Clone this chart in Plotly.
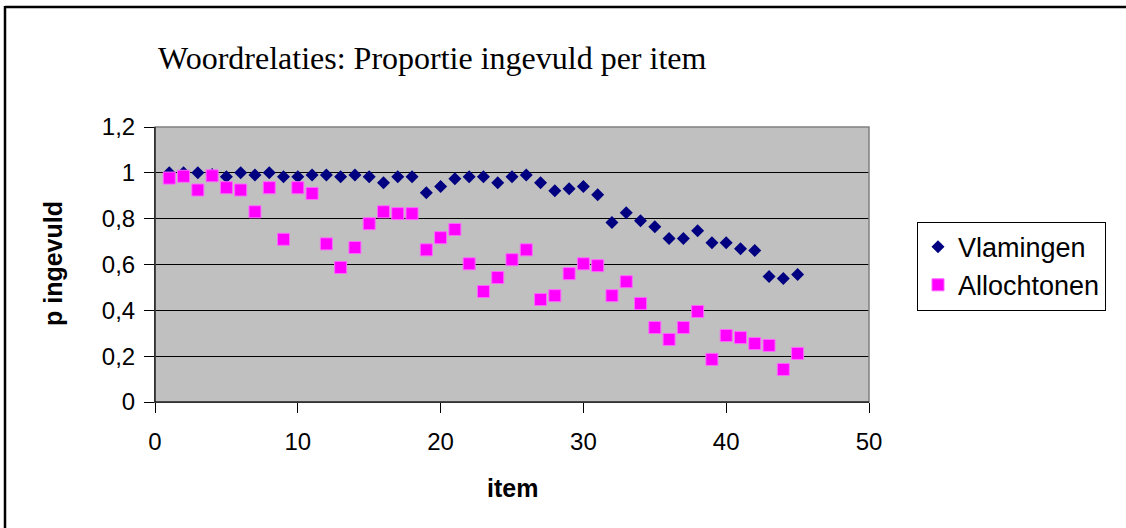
import plotly.graph_objects as go

items = list(range(1, 46))
vlamingen = [1.0, 1.0, 1.0, 0.993, 0.983, 1.0, 0.99, 1.0, 0.983, 0.983,
             0.99, 0.99, 0.983, 0.99, 0.983, 0.957, 0.983, 0.983, 0.913, 0.94,
             0.974, 0.983, 0.983, 0.957, 0.983, 0.991, 0.957, 0.922, 0.93, 0.94,
             0.904, 0.783, 0.826, 0.791, 0.765, 0.713, 0.713, 0.747, 0.695, 0.695,
             0.669, 0.661, 0.548, 0.539, 0.556]
allochtonen = [0.977, 0.985, 0.925, 0.987, 0.935, 0.925, 0.83, 0.935, 0.71, 0.935,
               0.91, 0.69, 0.587, 0.674, 0.778, 0.83, 0.822, 0.822, 0.664, 0.717,
               0.753, 0.603, 0.482, 0.543, 0.621, 0.664, 0.447, 0.464, 0.56, 0.603,
               0.595, 0.464, 0.525, 0.43, 0.325, 0.273, 0.325, 0.395, 0.186, 0.29,
               0.281, 0.255, 0.247, 0.142, 0.212]

title_text = "Woordrelaties: Proportie ingevuld per item"
x_title = "item"
y_title = "p ingevuld"
x_ticks = [0, 10, 20, 30, 40, 50]
y_ticks = [0, 0.2, 0.4, 0.6, 0.8, 1.0, 1.2]

W, H = 1126, 528
L, R, T, B = 155, 869, 127, 402
pw, ph = R - L, B - T


def px(x):
    return (x - L) / pw


def py(y):
    return (B - y) / ph


fig = go.Figure()
fig.add_trace(go.Scatter(
    x=items, y=vlamingen, mode="markers", name="Vlamingen",
    marker=dict(symbol="diamond", size=10, color="#000080",
                line=dict(width=0))))
fig.add_trace(go.Scatter(
    x=items, y=allochtonen, mode="markers", name="Allochtonen",
    marker=dict(symbol="square", size=12, color="#FF00FF",
                line=dict(width=1, color="#FF66FF"))))

axis_font = dict(family="Arial, Liberation Sans, sans-serif", size=24, color="black")

fig.update_layout(
    width=W, height=H,
    margin=dict(l=L, r=W - R, t=T, b=H - B, pad=0),
    paper_bgcolor="white",
    plot_bgcolor="#C0C0C0",
    separators=",.",
    showlegend=True,
    legend=dict(
        x=px(917), y=py(221.7), xanchor="left", yanchor="top",
        bgcolor="white", bordercolor="black", borderwidth=1,
        font=dict(family="Arial, Liberation Sans, sans-serif", size=27, color="black"),
        traceorder="normal",
    ),
    xaxis=dict(
        range=[0, 50], tickvals=x_ticks, showgrid=False, zeroline=False,
        showline=True, linecolor="black", linewidth=1,
        ticks="outside", ticklen=10, tickcolor="black", tickwidth=1,
        tickfont=axis_font, ticklabelstandoff=8,
    ),
    yaxis=dict(
        range=[0, 1.2], tickvals=y_ticks, showgrid=True, gridcolor="black",
        gridwidth=1, zeroline=False,
        showline=True, linecolor="black", linewidth=1,
        ticks="outside", ticklen=10, tickcolor="black", tickwidth=1,
        tickfont=axis_font, ticklabelstandoff=4,
    ),
    shapes=[
        dict(type="rect", xref="paper", yref="paper", x0=0, x1=1, y0=0, y1=1,
             line=dict(color="#808080", width=1.5), layer="above"),
        dict(type="line", xref="paper", yref="paper", x0=0, x1=0, y0=0, y1=1,
             line=dict(color="black", width=1), layer="above"),
        dict(type="line", xref="paper", yref="paper", x0=0, x1=1, y0=0, y1=0,
             line=dict(color="black", width=1), layer="above"),
        dict(type="line", xref="paper", yref="paper",
             x0=px(5), x1=px(1126), y0=py(7), y1=py(7),
             line=dict(color="black", width=2.5), layer="above"),
        dict(type="line", xref="paper", yref="paper",
             x0=px(5), x1=px(5), y0=py(6), y1=py(528),
             line=dict(color="black", width=2.5), layer="above"),
    ],
    annotations=[
        dict(text=title_text, xref="paper", yref="paper", x=px(156), y=py(58),
             xanchor="left", yanchor="middle", showarrow=False,
             font=dict(family="Times New Roman, Liberation Serif, serif", size=32, color="black")),
        dict(text="<b>" + y_title + "</b>", xref="paper", yref="paper",
             x=px(53), y=py(264), xanchor="center", yanchor="middle",
             textangle=-90, showarrow=False,
             font=dict(family="Arial, Liberation Sans, sans-serif", size=25, color="black")),
        dict(text="<b>" + x_title + "</b>", xref="paper", yref="paper",
             x=px(512), y=py(488), xanchor="center", yanchor="middle",
             showarrow=False,
             font=dict(family="Arial, Liberation Sans, sans-serif", size=25, color="black")),
    ],
)

fig.write_html("out.html", config={"displayModeBar": False},
               post_script="document.body.style.margin='0';")
